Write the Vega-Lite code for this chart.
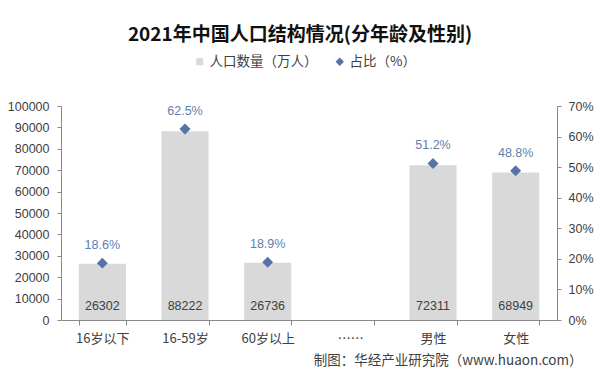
{
  "$schema": "https://vega.github.io/schema/vega-lite/v6.json",
  "width": 496,
  "height": 214,
  "autosize": {"type": "none"},
  "padding": {"left": 61, "top": 106, "right": 43, "bottom": 61},
  "background": "white",
  "title": {
    "text": "2021年中国人口结构情况(分年龄及性别)",
    "font": "Noto Sans CJK SC",
    "fontSize": 19,
    "fontWeight": "bold",
    "color": "#111111",
    "anchor": "middle",
    "offset": 10,
    "dx": -9
  },
  "config": {
    "view": {"stroke": null},
    "axis": {"grid": false, "domainColor": "#898989", "tickColor": "#898989", "labelColor": "#404040", "labelOverlap": false}
  },
  "data": {
    "values": [
      {"cat": "16岁以下", "pop": 26302, "pct": 0.186},
      {"cat": "16-59岁", "pop": 88222, "pct": 0.625},
      {"cat": "60岁以上", "pop": 26736, "pct": 0.189},
      {"cat": "男性", "pop": 72311, "pct": 0.512},
      {"cat": "女性", "pop": 68949, "pct": 0.488}
    ]
  },
  "layer": [
    {
      "layer": [
        {
          "mark": {"type": "bar", "color": "#d9d9d9"},
          "encoding": {
            "x": {
              "field": "cat",
              "type": "nominal",
              "sort": null,
              "scale": {"domain": ["16岁以下", "16-59岁", "60岁以上", "……", "男性", "女性"], "paddingInner": 0.43, "paddingOuter": 0.215},
              "axis": {
                "title": "制图：华经产业研究院（www.huaon.com）",
                "titleX": 521,
                "titleY": 40,
                "titleAlign": "right",
                "titleBaseline": "middle",
                "titleFont": "Noto Sans CJK SC",
                "titleFontSize": 13.5,
                "titleFontWeight": "normal",
                "titleColor": "#404040",
                "labelAngle": 0,
                "labelFont": "Noto Sans CJK SC",
                "labelFontSize": 13,
                "labelColor": "#404040",
                "labelPadding": 7,
                "tickBand": "extent",
                "tickSize": 5
              }
            },
            "y": {
              "field": "pop",
              "type": "quantitative",
              "scale": {"domain": [0, 100000]},
              "axis": {
                "title": null,
                "values": [0, 10000, 20000, 30000, 40000, 50000, 60000, 70000, 80000, 90000, 100000],
                "format": "d",
                "labelFont": "Liberation Sans",
                "labelFontSize": 12.5,
                "tickSize": 4,
                "labelPadding": 8,
                "labelOverlap": false
              }
            },
            "fill": {
              "datum": "人口数量（万人）",
              "scale": {"range": ["#d9d9d9"]},
              "legend": {
                "orient": "none",
                "legendX": 132,
                "legendY": -51,
                "title": null,
                "padding": 0,
                "symbolType": "square",
                "symbolSize": 50,
                "symbolStrokeWidth": 0,
                "labelFont": "Noto Sans CJK SC",
                "labelFontSize": 13.5,
                "labelColor": "#404040",
                "labelOffset": 3
              }
            }
          }
        },
        {
          "mark": {"type": "text", "baseline": "middle", "dy": -14, "font": "Liberation Sans", "fontSize": 12.5, "color": "#404040"},
          "encoding": {
            "x": {"field": "cat", "type": "nominal", "sort": null},
            "y": {
              "datum": 0,
              "type": "quantitative",
              "axis": {
                "title": null,
                "values": [0, 10000, 20000, 30000, 40000, 50000, 60000, 70000, 80000, 90000, 100000],
                "format": "d",
                "labelFont": "Liberation Sans",
                "labelFontSize": 12.5,
                "tickSize": 4,
                "labelPadding": 8,
                "labelOverlap": false
              }
            },
            "text": {"field": "pop", "type": "quantitative", "format": "d"}
          }
        }
      ]
    },
    {
      "layer": [
        {
          "mark": {"type": "point", "filled": true, "size": 120, "color": "#5672a6", "opacity": 1},
          "encoding": {
            "x": {"field": "cat", "type": "nominal", "sort": null},
            "y": {
              "field": "pct",
              "type": "quantitative",
              "scale": {"domain": [0, 0.7]},
              "axis": {
                "orient": "right",
                "title": null,
                "values": [0, 0.1, 0.2, 0.3, 0.4, 0.5, 0.6, 0.7],
                "format": ".0%",
                "labelFont": "Liberation Sans",
                "labelFontSize": 12.5,
                "tickSize": 4,
                "labelPadding": 7,
                "labelOverlap": false
              }
            },
            "shape": {
              "datum": "占比（%）",
              "scale": {"range": ["diamond"]},
              "legend": {
                "orient": "none",
                "legendX": 272,
                "legendY": -51,
                "title": null,
                "padding": 0,
                "symbolSize": 70,
                "symbolFillColor": "#5672a6",
                "symbolStrokeWidth": 0,
                "labelFont": "Noto Sans CJK SC",
                "labelFontSize": 13.5,
                "labelColor": "#404040",
                "labelOffset": 3
              }
            }
          }
        },
        {
          "mark": {"type": "text", "baseline": "alphabetic", "dy": -14, "font": "Liberation Sans", "fontSize": 12.5, "color": "#5f7fae"},
          "encoding": {
            "x": {"field": "cat", "type": "nominal", "sort": null},
            "y": {
              "field": "pct",
              "type": "quantitative",
              "axis": {
                "orient": "right",
                "title": null,
                "values": [0, 0.1, 0.2, 0.3, 0.4, 0.5, 0.6, 0.7],
                "format": ".0%",
                "labelFont": "Liberation Sans",
                "labelFontSize": 12.5,
                "tickSize": 4,
                "labelPadding": 7,
                "labelOverlap": false
              }
            },
            "text": {"field": "pct", "type": "quantitative", "format": ".1%"}
          }
        }
      ]
    }
  ],
  "resolve": {"scale": {"y": "independent"}}
}
